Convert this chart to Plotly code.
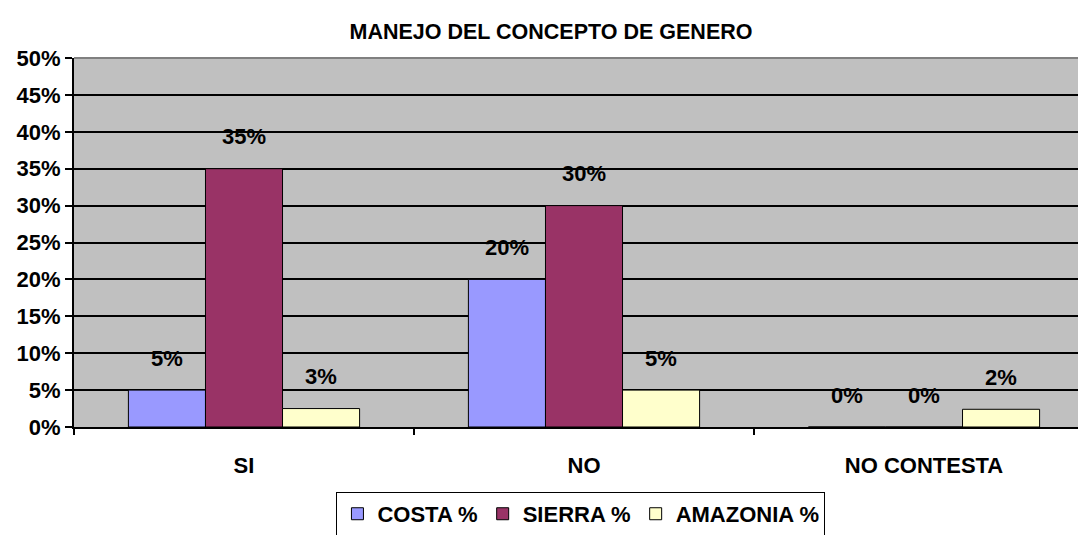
import plotly.graph_objects as go

CATEGORIES = ["SI", "NO", "NO CONTESTA"]
SERIES = ["COSTA %", "SIERRA %", "AMAZONIA %"]
COSTA = [5, 20, 0]
SIERRA = [35, 30, 0]
AMAZONIA = [2.5, 5, 2.4]
COSTA_LBL = ["5%", "20%", "0%"]
SIERRA_LBL = ["35%", "30%", "0%"]
AMAZONIA_LBL = ["3%", "5%", "2%"]
Y_TICKS = list(range(0, 55, 5))
Y_TICK_TEXT = [f"{v}%" for v in Y_TICKS]

COLORS = ["#9999FF", "#993366", "#FFFFCC"]
FONT = "Liberation Sans, Arial, sans-serif"

# the page body has an 8px margin, so the figure is offset by 8px;
# the plot area runs a little past the right edge of the window, as in the original
W, H = 1086, 535
L, R, T, B = 66, 0, 50, 116
BAR_PX = 77

fig = go.Figure()
for name, vals, color in zip(SERIES, [COSTA, SIERRA, AMAZONIA], COLORS):
    fig.add_trace(go.Bar(
        x=CATEGORIES, y=vals, name=name,
        marker=dict(color=color, line=dict(color="black", width=1)),
        hoverinfo="skip",
    ))

# data labels sit ~31px above each bar, Excel style
for i, (vals, lbls) in enumerate(zip([COSTA, SIERRA, AMAZONIA],
                                     [COSTA_LBL, SIERRA_LBL, AMAZONIA_LBL])):
    for cat, v, t in zip(CATEGORIES, vals, lbls):
        fig.add_annotation(
            x=cat, y=v, text=t, showarrow=False,
            xshift=(i - 1) * BAR_PX, yshift=32, yanchor="middle",
            font=dict(family=FONT, size=22, color="black", weight="bold"),
        )

# gray top border of the plot area
fig.add_shape(type="line", xref="paper", yref="paper", x0=0, x1=1, y0=1, y1=1,
              line=dict(color="#808080", width=2))

fig.update_layout(
    width=W, height=H,
    margin=dict(l=L, r=R, t=T, b=B),
    paper_bgcolor="white", plot_bgcolor="#C0C0C0",
    barmode="group", bargap=0.32, bargroupgap=0,
    font=dict(family=FONT, size=22, color="black", weight="bold"),
    title=dict(text="MANEJO DEL CONCEPTO DE GENERO", x=0.5, xanchor="center",
               xref="container", y=1 - 23 / H, yanchor="middle",
               font=dict(family=FONT, size=21.5, color="black", weight="bold")),
    showlegend=True,
    legend=dict(orientation="h", x=0.497, xanchor="center",
                y=-0.176, yanchor="top",
                bgcolor="white", bordercolor="black", borderwidth=1,
                font=dict(family=FONT, size=22, color="black", weight="bold"),
                itemwidth=30, tracegroupgap=0),
)
fig.update_yaxes(
    range=[0, 50], tickvals=Y_TICKS, ticktext=Y_TICK_TEXT,
    showgrid=True, gridcolor="black", gridwidth=2,
    zeroline=False, showline=True, linecolor="black", linewidth=2,
    ticks="outside", ticklen=7, tickwidth=2, tickcolor="black",
    fixedrange=True,
)
fig.update_xaxes(
    showgrid=False, showline=True, linecolor="black", linewidth=2,
    ticks="outside", tickson="boundaries", ticklen=6, tickwidth=2, tickcolor="black",
    ticklabelstandoff=18, tickangle=0, automargin=False, fixedrange=True,
)

fig.write_html("out.html")
